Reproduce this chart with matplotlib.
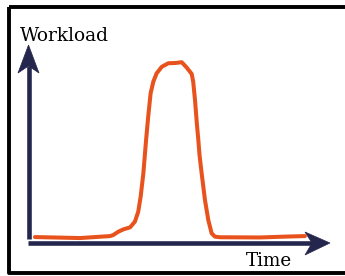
import matplotlib
matplotlib.use('Agg')
import matplotlib.pyplot as plt
from matplotlib.patches import Polygon, Rectangle

# workload over time (arbitrary units, 0-100)
time = [2.3, 17.2, 27.2, 28.2, 29.9, 31.6, 33.8, 35.4, 36.5, 37.3, 38.2, 39.1,
        39.8, 40.6, 41.5, 42.6, 44.3, 46.5, 48.7, 50.9, 52.5, 54.2, 54.7, 55.3,
        55.9, 56.4, 56.8, 57.5, 58.6, 59.7, 60.8, 61.9, 63.6, 76.8, 86.8, 91.7]
workload = [3.0, 2.5, 3.5, 4.0, 5.7, 6.9, 7.9, 10.8, 15.8, 23.4, 35.2, 52.0,
            63.8, 75.6, 81.5, 85.7, 89.0, 90.8, 90.9, 91.3, 88.7, 85.4, 81.5, 72.2,
            60.5, 52.0, 44.4, 35.2, 21.7, 11.6, 4.9, 3.2, 2.9, 2.8, 3.3, 3.5]

orange = '#e8531d'
navy = '#25264d'

W, H = 345, 276
fig = plt.figure(figsize=(W / 100, H / 100), dpi=100)

# overlay in pixel units for frame, arrows and labels
deco = fig.add_axes([0, 0, 1, 1])
deco.set_xlim(0, W)
deco.set_ylim(H, 0)
deco.axis('off')

deco.add_patch(Rectangle((9, 7), 360, 266, fill=False, edgecolor='black',
                         linewidth=2.8, joinstyle='round'))

# y axis arrow
deco.plot([28.5, 28.5], [239, 66], color=navy, linewidth=3.3, solid_capstyle='butt')
deco.add_patch(Polygon([(28.5, 45), (39, 73), (28.5, 66), (18, 73)], closed=True,
                       facecolor=navy, edgecolor=navy, linewidth=0.5))
# x axis arrow
deco.plot([28, 312], [243, 243], color=navy, linewidth=3.3, solid_capstyle='butt')
deco.add_patch(Polygon([(330, 243), (305, 232), (312, 243), (305, 255)], closed=True,
                       facecolor=navy, edgecolor=navy, linewidth=0.5))

deco.text(20, 41, 'Workload', fontsize=13.4, family='DejaVu Serif',
          ha='left', va='baseline', color='black')
deco.text(269, 266, 'Time', fontsize=13.2, family='DejaVu Serif',
          ha='center', va='baseline', color='black')

# data axes
ax = fig.add_axes([28 / W, (H - 243) / H, 302 / W, 198 / H])
ax.set_xlim(0, 100)
ax.set_ylim(0, 100)
ax.axis('off')
ax.plot(time, workload, color=orange, linewidth=2.9, solid_capstyle='round',
        solid_joinstyle='round')

fig.savefig('out.png', dpi=100)
